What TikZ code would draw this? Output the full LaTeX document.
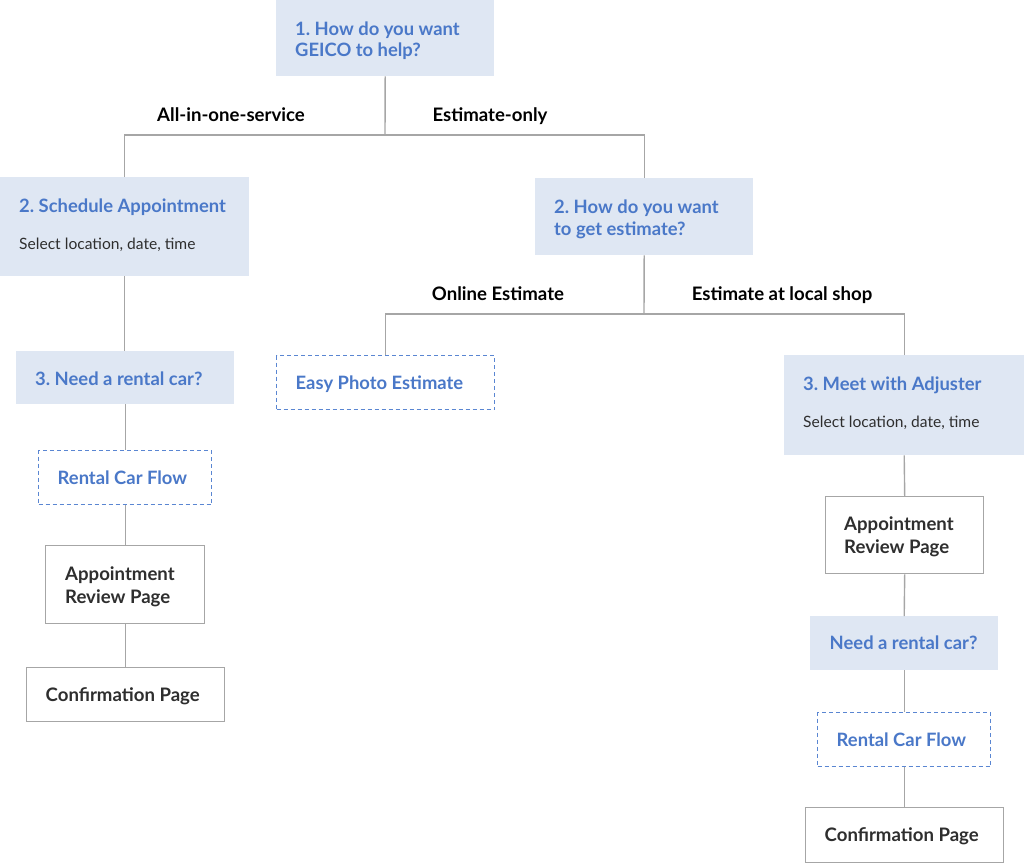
\documentclass[tikz,border=0pt]{standalone}
\usepackage{fontspec}
\setmainfont{Lato}
\frenchspacing
\definecolor{qfill}{HTML}{DFE7F3}
\definecolor{qblue}{HTML}{4A78C8}
\definecolor{lgrey}{HTML}{A6A6A6}
\definecolor{dtext}{HTML}{2E2E2E}
\definecolor{dashblue}{HTML}{5A86D2}
\begin{document}
\begin{tikzpicture}[x=1pt,y=-1pt,
  qbox/.style={fill=qfill, draw=none, inner sep=0pt, anchor=north west},
  wbox/.style={fill=white, draw=lgrey, line width=1.4pt, inner sep=0pt, anchor=north west},
  dbox/.style={fill=white, draw=dashblue, line width=1.4pt, dash pattern=on 4pt off 3pt, inner sep=0pt, anchor=north west},
  conn/.style={draw=lgrey, line width=1.4pt},
  qtitle/.style={anchor=base west, inner sep=0pt, text=qblue, font=\fontsize{18.4}{22}\selectfont\bfseries},
  sub/.style={anchor=base west, inner sep=0pt, text=dtext, font=\fontsize{15.6}{18}\selectfont},
  wtext/.style={anchor=base west, inner sep=0pt, text=dtext, font=\fontsize{18.6}{22}\selectfont\bfseries},
  lab/.style={anchor=base, inner sep=0pt, text=black, font=\fontsize{18.6}{22}\selectfont\bfseries},
  inpos/.style={xshift=19.5pt, yshift=-6.5pt}
]
\useasboundingbox (0,0) rectangle (1024,865);

\coordinate (j1) at (385,135);
\coordinate (j2) at (644,314);

% boxes
\node[qbox, minimum width=218, minimum height=76] (q1) at (276,0) {};
\node[qbox, minimum width=249, minimum height=99] (s2) at (0,177) {};
\node[qbox, minimum width=218, minimum height=77] (e2) at (535,178) {};
\node[dbox, minimum width=218, minimum height=54] (photo) at (276,355) {};
\node[qbox, minimum width=240, minimum height=100] (adj) at (784,355) {};
\node[qbox, minimum width=218, minimum height=53] (rentL) at (16,351) {};
\node[dbox, minimum width=173, minimum height=54] (flowL) at (38,450) {};
\node[wbox, minimum width=159, minimum height=78] (revL) at (45,545) {};
\node[wbox, minimum width=198, minimum height=54] (confL) at (26,667) {};
\node[wbox, minimum width=158, minimum height=77] (revR) at (825,496) {};
\node[qbox, minimum width=188, minimum height=54] (rentR) at (810,616) {};
\node[dbox, minimum width=173, minimum height=54] (flowR) at (817,712) {};
\node[wbox, minimum width=198, minimum height=55] (confR) at (805,807) {};

% connectors
\draw[conn] (q1.south) -- (j1);
\draw[conn] (s2.north) |- (j1);
\draw[conn] (e2.north) |- (j1);
\draw[conn] (e2.south) -- (j2);
\draw[conn] (photo.north) |- (j2);
\draw[conn] (adj.north) |- (j2);
\draw[conn] (s2.south) -- (rentL.north -| s2.south);
\draw[conn] (rentL.south -| flowL.north) -- (flowL.north);
\draw[conn] (flowL.south) -- (revL.north);
\draw[conn] (revL.south) -- (confL.north -| revL.south);
\draw[conn] (adj.south) -- (revR.north);
\draw[conn] (revR.south) -- (rentR.north);
\draw[conn] (rentR.south) -- (flowR.north -| rentR.south);
\draw[conn] (flowR.south -| confR.north) -- (confR.north);

% texts
\node[qtitle] (t1a) at (295,35) {1. How do you want};
\node[qtitle] (t1b) at (295,56) {GEICO to help?};
\node[lab] (l1) at (231,121) {All-in-one-service};
\node[lab] (l2) at (490,121) {Estimate-only};
\node[qtitle] (t2a) at (19,212) {2. Schedule Appointment};
\node[sub] (t2b) at (19,249) {Select location, date, time};
\node[qtitle] (t3a) at (554,213) {2. How do you want};
\node[qtitle] (t3b) at (554,235) {to get estimate?};
\node[lab] (l3) at (498,300) {Online Estimate};
\node[lab] (l4) at (782,300) {Estimate at local shop};
\node[qtitle] (t4) at ([inpos]photo.west) {Easy Photo Estimate};
\node[qtitle] (t5a) at (803,390) {3. Meet with Adjuster};
\node[sub] (t5b) at (803,427) {Select location, date, time};
\node[qtitle] (t6) at (35,385) {3. Need a rental car?};
\node[qtitle] (t7) at ([inpos]flowL.west) {Rental Car Flow};
\node[wtext] (t8a) at (65,580) {Appointment};
\node[wtext] (t8b) at (65,603) {Review Page};
\node[wtext] (t9) at ([inpos]confL.west) {Confirmation Page};
\node[wtext] (t10a) at (844,530) {Appointment};
\node[wtext] (t10b) at (844,553) {Review Page};
\node[qtitle] (t11) at ([inpos]rentR.west) {Need a rental car?};
\node[qtitle] (t12) at ([inpos]flowR.west) {Rental Car Flow};
\node[wtext] (t13) at ([inpos]confR.west) {Confirmation Page};
\end{tikzpicture}
\end{document}
